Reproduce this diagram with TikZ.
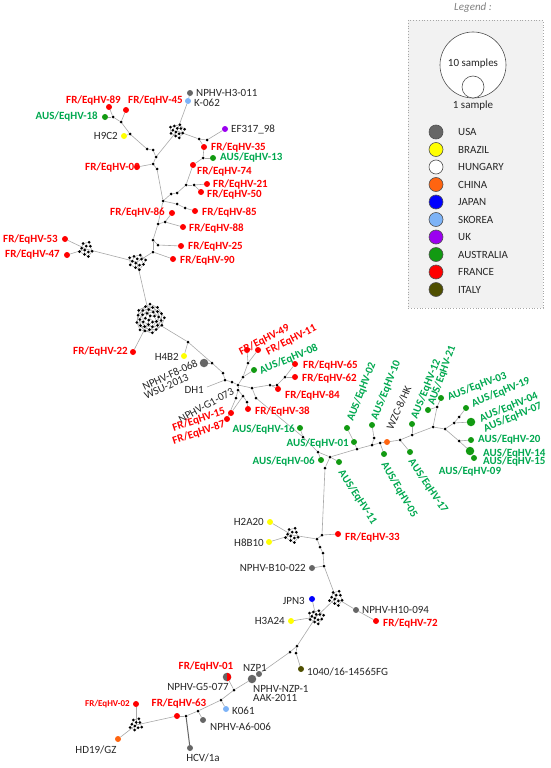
\documentclass[tikz,border=0pt]{standalone}
\usepackage{fontspec}
\setmainfont{Carlito}
\usetikzlibrary{calc,backgrounds}
\definecolor{FRred}{HTML}{FF0000}
\definecolor{AUSgreen}{HTML}{00A84F}
\definecolor{AUSdot}{HTML}{129A12}
\definecolor{USAgray}{HTML}{666666}
\definecolor{BRAyellow}{HTML}{FFFF00}
\definecolor{CHNorange}{HTML}{FF6410}
\definecolor{JPNblue}{HTML}{0000FF}
\definecolor{SKRblue}{HTML}{7DB3F7}
\definecolor{UKpurple}{HTML}{9B00F0}
\definecolor{ITAolive}{HTML}{4F4F00}
\definecolor{LabelGray}{HTML}{262626}
\definecolor{EdgeGray}{HTML}{A8A8A8}
\definecolor{LegendFill}{HTML}{F2F2F2}

% cluster of median vectors: name, x, y, radius, count
\newcommand{\mvcluster}[5]{%
  \coordinate (#1) at (#2,#3);
  \foreach \k in {1,...,#5}{
    \pgfmathsetmacro\cang{\k*137.508}
    \pgfmathsetmacro\crad{#4*sqrt((\k-0.5)/#5)}
    \node[mv] (#1-\k) at ($(#1)+(\cang:\crad)$) {};
  }
  \begin{scope}[on background layer]
    \foreach \k in {4,...,#5}{
      \pgfmathtruncatemacro\kp{\k-3}
      \draw[netline] (#1-\k) -- (#1-\kp);
    }
    \foreach \k in {6,...,#5}{
      \pgfmathtruncatemacro\kq{\k-5}
      \draw[netline] (#1-\k) -- (#1-\kq);
    }
  \end{scope}
}

\begin{document}
\begin{tikzpicture}[x=1pt,y=-1pt,
  mv/.style={circle,fill=black,inner sep=0pt,minimum size=3pt},
  smp/.style={circle,inner sep=0pt,minimum size=6pt},
  big/.style={minimum size=8.5pt},
  fr/.style={smp,fill=FRred},
  aus/.style={smp,fill=AUSdot},
  usa/.style={smp,fill=USAgray},
  bra/.style={smp,fill=BRAyellow},
  chn/.style={smp,fill=CHNorange},
  jpn/.style={smp,fill=JPNblue},
  skr/.style={smp,fill=SKRblue},
  uk/.style={smp,fill=UKpurple},
  ita/.style={smp,fill=ITAolive},
  netline/.style={draw=EdgeGray,line width=0.6pt},
  darkline/.style={draw=USAgray,line width=1pt},
  frlab/.style={text=FRred,font=\fontsize{11}{12}\selectfont\bfseries,inner sep=1pt},
  auslab/.style={text=AUSgreen,font=\fontsize{11}{12}\selectfont\bfseries,inner sep=1pt},
  reflab/.style={text=LabelGray,font=\fontsize{11}{12}\selectfont,inner sep=1pt},
  legdot/.style={circle,inner sep=0pt,minimum size=14pt,draw=LabelGray!80,line width=0.6pt}
]
\useasboundingbox (0,0) rectangle (550,768);

% legend
\node[text=gray,font=\fontsize{11}{12}\selectfont\itshape] (legtitle) at (473,8) {Legend :};
\draw[draw=gray!70,dotted,fill=LegendFill,line width=0.8pt] (408,20) rectangle (543,308);
\node[circle,draw=LabelGray!80,fill=white,line width=0.6pt,minimum size=66pt,inner sep=0pt] (ten) at (473,65) {};
\node[circle,draw=LabelGray!80,fill=white,line width=0.6pt,minimum size=22pt,inner sep=0pt] (one) at (473,87) {};
\node[reflab] (tentxt) at (473,64) {10 samples};
\node[reflab] (onetxt) at (473,106) {1 sample};
\foreach \c/\t [count=\i] in {USAgray/USA,BRAyellow/BRAZIL,white/HUNGARY,CHNorange/CHINA,
    JPNblue/JAPAN,SKRblue/SKOREA,UKpurple/UK,AUSdot/AUSTRALIA,FRred/FRANCE,ITAolive/ITALY}{
  \node[legdot,fill=\c] (leg-\i) at (436,114.5+17.5*\i) {};
  \node[reflab,anchor=west] (legt-\i) at (457,114.5+17.5*\i) {\t};
}

% clusters
\mvcluster{ctop}{177}{131}{8}{13}
\mvcluster{cleft}{86}{249}{8}{11}
\mvcluster{cmid}{137}{262}{9}{13}
\mvcluster{cbig}{150}{319}{15}{36}
\mvcluster{ch2}{292}{535}{8}{11}
\mvcluster{cup}{336}{598}{8}{11}
\mvcluster{clow}{316}{617}{8}{13}
\mvcluster{cbot}{136}{725}{7}{10}

% median vectors
\foreach \n/\x/\y in {a1/113/117,a2/121/122,a3/130/134,a4/147/149,a5/153/150,a6/156/157,
    a7/153/164,a8/157/169,a9/163/201,a10/158/224,a11/153/240,a12/153/252,
    b1/199/139,b2/207/140,b3/203/158,b4/186/185,b5/194/185,b6/177/193,b7/171/194,
    c1/177/204,c2/185/208,c3/165/222,c4/158/245,d1/188/342,d2/212/363,
    h1/223/373,h2/225/380,h3/232/382,h4/238/385,h5/238/390,h6/243/377,h7/248/363,
    h8/252/388,h9/243/396,h10/247/402,h11/256/398,h12/236/398,
    e1/270/385,e2/277/385,e3/285/377,f1/303/437,
    g1/318/452,g2/330/457,g3/325/468,g4/357/449,g5/372/445,g6/374/438,g7/380/443,
    g9/400/440,g10/412/435,g11/433/427,g12/437/407,g13/445/429,g14/454/423,g15/459/417,g16/459/441,
    k1/322/535,k2/317/539,k3/320/547,k4/323/553,k5/324/566,
    l1/297/646,l2/290/652,l3/296/653,l4/234/690,l5/221/700,l6/198/711,l7/186/716}
  \node[mv] (\n) at (\x,\y) {};
\coordinate (dh1) at (207,387);

% samples
\node[usa] (h3011) at (190,93) {};
\node[skr] (k062) at (188,101) {};
\node[fr] (fr45) at (126,110) {};
\node[fr] (fr89) at (109,107) {};
\node[aus] (aus18) at (105,117) {};
\node[bra] (h9c2) at (124,136) {};
\node[uk] (ef317) at (225,129) {};
\node[fr] (fr35) at (204,147) {};
\node[aus] (aus13) at (213,158) {};
\node[fr] (fr74) at (193,165) {};
\node[fr] (fr21) at (207,184) {};
\node[fr] (fr50) at (201,192) {};
\node[fr] (fr85) at (195,211) {};
\node[fr] (fr86) at (172,213) {};
\node[fr] (fr88) at (183,227) {};
\node[fr] (fr25) at (181,246) {};
\node[fr] (fr90) at (173,259) {};
\node[fr] (fr53) at (65,239) {};
\node[fr] (fr47) at (67,255) {};
\node[fr] (fr22) at (133,352) {};
\node[bra] (h4b2) at (184,356) {};
\node[usa,big] (f8) at (204,363) {};
\node[fr] (fr49) at (247,350) {};
\node[fr] (fr11) at (258,350) {};
\node[aus] (aus08) at (254,370) {};
\node[fr] (fr65) at (295,364) {};
\node[fr] (fr62) at (295,377) {};
\node[fr] (fr84) at (278,389) {};
\node[fr] (fr38) at (248,409) {};
\node[fr] (fr15) at (231,413) {};
\node[fr] (fr87) at (227,419) {};
\node[aus] (aus16) at (300,428) {};
\node[aus] (aus06) at (321,460) {};
\node[aus] (aus11) at (339,462) {};
\node[aus] (aus01) at (354,442) {};
\node[aus] (aus02) at (347,428) {};
\node[aus] (aus10) at (372,425) {};
\node[chn] (wzc) at (387,442) {};
\node[aus] (aus05) at (384,454) {};
\node[aus] (aus17) at (410,452) {};
\node[aus] (aus12) at (412,424) {};
\node[aus] (aus21) at (428,410) {};
\node[aus] (aus03) at (441,398) {};
\node[aus] (aus19) at (466,408) {};
\node[aus,big] (aus04) at (471,422) {};
\node[aus] (aus20) at (471,440) {};
\node[aus,big] (aus14) at (470,451) {};
\node[aus] (aus15) at (474,458) {};
\node[bra] (h2a20) at (270,522) {};
\node[bra] (h8b10) at (269,542) {};
\node[fr] (fr33) at (338,534) {};
\node[usa] (b10022) at (312,568) {};
\node[jpn] (jpn3) at (312,599) {};
\node[usa] (h10094) at (356,610) {};
\node[fr] (fr72) at (376,621) {};
\node[bra] (h3a24) at (291,621) {};
\node[ita] (s1040) at (301,669) {};
\node[usa] (nzp1) at (259,674) {};
\node[usa,big] (nzpaak) at (252,679) {};
\node[usa,big] (fr01) at (227,677) {};
\begin{scope}
  \clip (227,670) rectangle (233,684);
  \fill[FRred] (fr01) circle[radius=4.25pt];
\end{scope}
\node[skr] (k061) at (226,709) {};
\node[usa] (a6006) at (203,720) {};
\node[usa] (hcv) at (190,748) {};
\node[fr] (fr63) at (177,716) {};
\node[fr] (fr02) at (136,704) {};
\node[chn] (hd19) at (118,739) {};

% connectors
\begin{scope}[on background layer]
  \foreach \u/\v in {aus18/a1,fr89/a1,a1/a2,fr45/a2,a2/a3,h9c2/a3,a3/a4,a4/a5,a5/a6,a6/ctop,
      a6/a7,a7/a8,a8/a9,ctop/k062,k062/h3011,
      ctop/b1,b1/b2,b2/ef317,b1/fr35,fr35/b3,b3/aus13,b3/fr74,fr74/b4,b4/b5,b5/fr21,b5/fr50,
      b4/b6,b6/b7,b7/a9,a9/c1,c1/c2,c2/fr85,a9/a10,a10/c3,c3/fr86,c3/fr88,a10/a11,a11/c4,
      c4/fr25,a11/a12,a12/fr90,a12/cmid,cleft/fr53,cleft/fr47,cleft/cmid,cmid/cbig,
      cbig/fr22,cbig/d1,d1/h4b2,d1/d2,d2/f8,d2/h1,h1/h2,h2/h3,h3/h4,h4/h5,h4/h6,h6/h7,
      h7/fr49,h7/fr11,h6/aus08,h4/h8,h8/e1,e1/e2,e2/e3,e3/fr65,e3/fr62,e1/fr84,h5/h9,
      h9/fr15,h5/h12,h12/fr87,h9/h10,h10/fr38,h8/h11,h11/f1,dh1/h2,
      f1/aus16,f1/g1,g1/aus06,g1/g2,g2/aus11,g2/g3,g2/g4,g4/aus01,aus01/aus02,g4/g5,
      g5/g6,g6/aus10,g5/g7,g7/aus05,g7/wzc,wzc/g9,g9/aus17,g9/g10,g10/aus12,g10/g11,
      g11/g12,g12/aus03,g12/aus21,g11/g13,g13/g14,g14/g15,g15/aus19,g14/aus04,g13/g16,
      g16/aus20,g16/aus14,aus14/aus15,
      g3/k1,k1/fr33,k1/k2,k2/ch2,ch2/h2a20,ch2/h8b10,k2/k3,k3/k4,k4/k5,k5/b10022,k5/cup,
      cup/h10094,h10094/fr72,cup/clow,clow/jpn3,clow/h3a24,clow/l1,l1/l2,l1/l3,l3/s1040,
      l2/nzp1,nzp1/nzpaak,nzpaak/l4,l4/fr01,l4/l5,l5/k061,l5/l6,l6/a6006,l6/l7,
      l7/fr63,fr63/cbot,cbot/fr02,cbot/hd19}
    \draw[netline] (\u) -- (\v);
  \draw[darkline] (l7) -- (hcv);
\end{scope}

% labels
\node[reflab,anchor=west] (t-h3011) at (195,93) {NPHV-H3-011};
\node[reflab,anchor=west] (t-k062) at (193,103) {K-062};
\node[frlab,anchor=west] (t-fr45) at (127,101) {FR/EqHV-45};
\node[frlab,anchor=east] (t-fr89) at (122,101) {FR/EqHV-89};
\node[auslab,anchor=east] (t-aus18) at (99,117) {AUS/EqHV-18};
\node[reflab,anchor=east] (t-h9c2) at (119,136) {H9C2};
\node[reflab,anchor=west] (t-ef317) at (230,129) {EF317\_98};
\node[frlab,anchor=west] (t-fr35) at (210,148) {FR/EqHV-35};
\node[auslab,anchor=west] (t-aus13) at (219,158) {AUS/EqHV-13};
\node[frlab,anchor=east] (t-fr09) at (141,168) {FR/EqHV-09};
\node[fr] (fr09) at (137,167) {};
\begin{scope}[on background layer]
  \draw[netline] (a7) -- (fr09);
\end{scope}
\node[frlab,anchor=west] (t-fr74) at (196,172) {FR/EqHV-74};
\node[frlab,anchor=west] (t-fr21) at (212,185) {FR/EqHV-21};
\node[frlab,anchor=west] (t-fr50) at (206,195) {FR/EqHV-50};
\node[frlab,anchor=west] (t-fr85) at (201,213) {FR/EqHV-85};
\node[frlab,anchor=east] (t-fr86) at (166,213) {FR/EqHV-86};
\node[frlab,anchor=west] (t-fr88) at (188,229) {FR/EqHV-88};
\node[frlab,anchor=west] (t-fr25) at (187,247) {FR/EqHV-25};
\node[frlab,anchor=west] (t-fr90) at (179,261) {FR/EqHV-90};
\node[frlab,anchor=east] (t-fr53) at (59,240) {FR/EqHV-53};
\node[frlab,anchor=east] (t-fr47) at (61,255) {FR/EqHV-47};
\node[frlab,anchor=east] (t-fr22) at (129,352) {FR/EqHV-22};
\node[reflab,anchor=east] (t-h4b2) at (180,357) {H4B2};
\node[reflab,anchor=east,rotate=25] (t-f8) at (198,362) {NPHV-F8-068};
\node[reflab,anchor=east,rotate=25] (t-wsu) at (189,376) {WSU-2013};
\node[reflab,anchor=east] (t-dh1) at (205,390) {DH1};
\node[reflab,anchor=east,rotate=29] (t-g1073) at (234,390) {NPHV-G1-073};
\node[frlab,anchor=west,rotate=27] (t-fr49) at (239,353) {FR/EqHV-49};
\node[frlab,anchor=west,rotate=27] (t-fr11) at (266,353) {FR/EqHV-11};
\node[auslab,anchor=west,rotate=23] (t-aus08) at (259,372) {AUS/EqHV-08};
\node[frlab,anchor=west] (t-fr65) at (302,366) {FR/EqHV-65};
\node[frlab,anchor=west] (t-fr62) at (301,379) {FR/EqHV-62};
\node[frlab,anchor=west] (t-fr84) at (284,396) {FR/EqHV-84};
\node[frlab,anchor=west] (t-fr38) at (254,412) {FR/EqHV-38};
\node[frlab,anchor=east,rotate=18] (t-fr15) at (226,411) {FR/EqHV-15};
\node[frlab,anchor=east,rotate=18] (t-fr87) at (226,424) {FR/EqHV-87};
\node[auslab,anchor=east] (t-aus16) at (296,430) {AUS/EqHV-16};
\node[auslab,anchor=east] (t-aus06) at (316,462) {AUS/EqHV-06};
\node[auslab,anchor=east] (t-aus01) at (350,444) {AUS/EqHV-01};
\node[auslab,anchor=west,rotate=-57] (t-aus11) at (340,470) {AUS/EqHV-11};
\node[auslab,anchor=west,rotate=69] (t-aus02) at (350,422) {AUS/EqHV-02};
\node[auslab,anchor=west,rotate=68] (t-aus10) at (374,420) {AUS/EqHV-10};
\node[reflab,anchor=west,rotate=66] (t-wzc) at (389,430) {WZC-8/HK};
\node[auslab,anchor=west,rotate=-60] (t-aus05) at (383,462) {AUS/EqHV-05};
\node[auslab,anchor=west,rotate=-56] (t-aus17) at (410,459) {AUS/EqHV-17};
\node[auslab,anchor=west,rotate=68] (t-aus12) at (414,419) {AUS/EqHV-12};
\node[auslab,anchor=west,rotate=70] (t-aus21) at (431,406) {AUS/EqHV-21};
\node[auslab,anchor=west,rotate=21] (t-aus03) at (447,398) {AUS/EqHV-03};
\node[auslab,anchor=west,rotate=23] (t-aus19) at (471,405) {AUS/EqHV-19};
\node[auslab,anchor=west,rotate=23] (t-aus04) at (479,420) {AUS/EqHV-04};
\node[auslab,anchor=west,rotate=23] (t-aus07) at (483,430) {AUS/EqHV-07};
\node[auslab,anchor=west] (t-aus20) at (477,440) {AUS/EqHV-20};
\node[auslab,anchor=west] (t-aus14) at (482,453) {AUS/EqHV-14};
\node[auslab,anchor=west] (t-aus15) at (482,462) {AUS/EqHV-15};
\node[auslab] (t-aus09) at (470,471) {AUS/EqHV-09};
\node[reflab,anchor=east] (t-h2a20) at (265,522) {H2A20};
\node[reflab,anchor=east] (t-h8b10) at (265,543) {H8B10};
\node[frlab,anchor=west] (t-fr33) at (344,537) {FR/EqHV-33};
\node[reflab,anchor=east] (t-b10022) at (307,568) {NPHV-B10-022};
\node[reflab,anchor=east] (t-jpn3) at (306,601) {JPN3};
\node[reflab,anchor=west] (t-h10094) at (361,610) {NPHV-H10-094};
\node[frlab,anchor=west] (t-fr72) at (382,623) {FR/EqHV-72};
\node[reflab,anchor=east] (t-h3a24) at (286,621) {H3A24};
\node[reflab,anchor=west] (t-s1040) at (306,672) {1040/16-14565FG};
\node[reflab] (t-nzp1) at (255,668) {NZP1};
\node[reflab,anchor=north west,align=left,font=\fontsize{11}{9.5}\selectfont] (t-nzpaak) at (252,684) {NPHV-NZP-1\\AAK-2011};
\node[frlab] (t-fr01) at (206,666) {FR/EqHV-01};
\node[reflab] (t-g5077) at (198,687) {NPHV-G5-077};
\node[reflab,anchor=west] (t-k061) at (231,711) {K061};
\node[reflab,anchor=west] (t-a6006) at (209,727) {NPHV-A6-006};
\node[reflab] (t-hcv) at (203,758) {HCV/1a};
\node[frlab] (t-fr63) at (179,703) {FR/EqHV-63};
\node[frlab,anchor=east,font=\fontsize{9}{10}\selectfont\bfseries] (t-fr02) at (131,704) {FR/EqHV-02};
\node[reflab] (t-hd19) at (96,750) {HD19/GZ};
\end{tikzpicture}
\end{document}
